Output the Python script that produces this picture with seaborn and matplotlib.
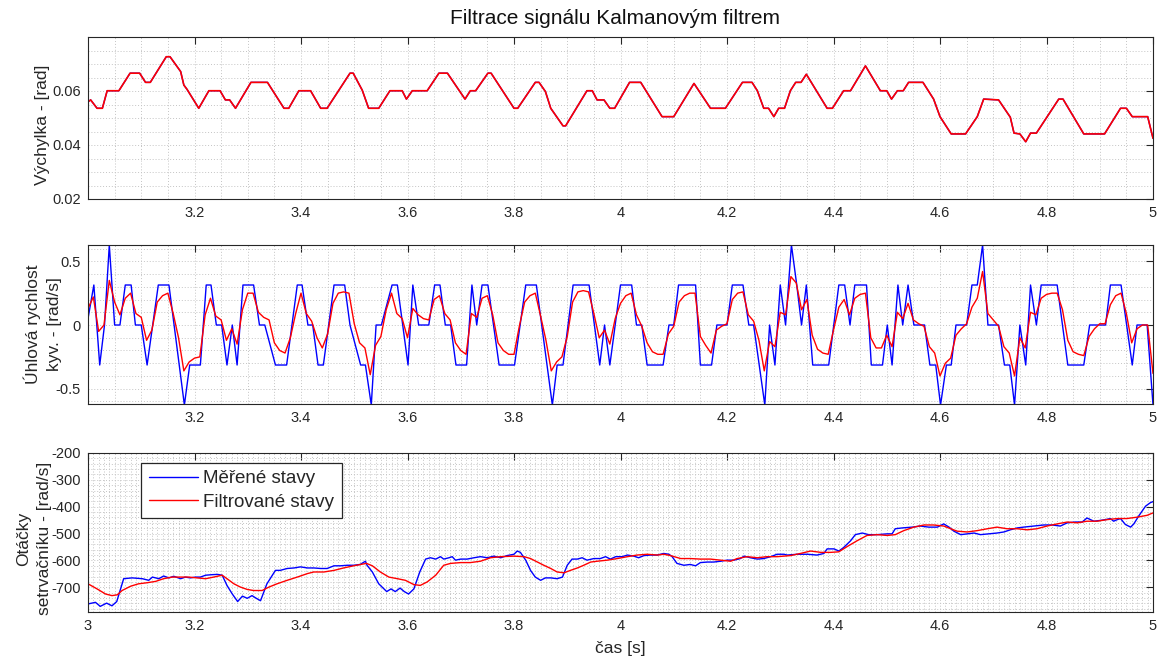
import matplotlib
matplotlib.use("Agg")
import matplotlib.pyplot as plt
from matplotlib.ticker import MultipleLocator, FixedLocator, FixedFormatter
import seaborn as sns

# --- hodnoty ---
# výchylka (měřená i filtrovaná se téměř kryjí)
angle_t = [3.000, 3.005, 3.017, 3.027, 3.036, 3.058, 3.079, 3.097, 3.108, 3.117, 3.147, 3.154,
           3.174, 3.180, 3.186, 3.208, 3.227, 3.248, 3.258, 3.266, 3.277, 3.306, 3.337, 3.368,
           3.377, 3.396, 3.418, 3.437, 3.449, 3.492, 3.498, 3.515, 3.527, 3.546, 3.567, 3.590,
           3.598, 3.609, 3.637, 3.659, 3.675, 3.708, 3.718, 3.728, 3.751, 3.757, 3.800, 3.807,
           3.840, 3.847, 3.859, 3.869, 3.892, 3.897, 3.937, 3.947, 3.956, 3.969, 3.980, 3.989,
           4.017, 4.038, 4.078, 4.100, 4.138, 4.169, 4.197, 4.229, 4.247, 4.257, 4.269, 4.278,
           4.288, 4.297, 4.308, 4.319, 4.329, 4.339, 4.349, 4.388, 4.398, 4.419, 4.432, 4.460,
           4.488, 4.500, 4.509, 4.520, 4.531, 4.541, 4.568, 4.588, 4.600, 4.621, 4.648, 4.670,
           4.682, 4.710, 4.732, 4.739, 4.750, 4.761, 4.770, 4.781, 4.823, 4.831, 4.870, 4.909,
           4.939, 4.950, 4.961, 4.990, 5.000]
angle_v = [0.0560, 0.0567, 0.0536, 0.0536, 0.0601, 0.0601, 0.0666, 0.0666, 0.0632, 0.0632, 0.0727, 0.0727,
           0.0672, 0.0622, 0.0606, 0.0536, 0.0601, 0.0601, 0.0567, 0.0567, 0.0536, 0.0632, 0.0632, 0.0536,
           0.0536, 0.0601, 0.0601, 0.0536, 0.0536, 0.0666, 0.0666, 0.0603, 0.0536, 0.0536, 0.0601, 0.0601,
           0.0570, 0.0601, 0.0601, 0.0666, 0.0666, 0.0570, 0.0601, 0.0601, 0.0666, 0.0666, 0.0536, 0.0536,
           0.0632, 0.0632, 0.0598, 0.0536, 0.0471, 0.0471, 0.0601, 0.0601, 0.0567, 0.0567, 0.0536, 0.0536,
           0.0632, 0.0632, 0.0505, 0.0505, 0.0628, 0.0536, 0.0536, 0.0632, 0.0632, 0.0601, 0.0536, 0.0536,
           0.0505, 0.0536, 0.0536, 0.0601, 0.0632, 0.0632, 0.0662, 0.0536, 0.0536, 0.0601, 0.0601, 0.0693,
           0.0601, 0.0601, 0.0570, 0.0601, 0.0601, 0.0632, 0.0632, 0.0570, 0.0505, 0.0441, 0.0441, 0.0505,
           0.0570, 0.0567, 0.0503, 0.0444, 0.0441, 0.0412, 0.0444, 0.0444, 0.0570, 0.0570, 0.0441, 0.0441,
           0.0536, 0.0536, 0.0505, 0.0505, 0.0425]

# úhlová rychlost - měřená
speed_meas_t = [3.000, 3.011, 3.022, 3.031, 3.040, 3.050, 3.060, 3.070, 3.081, 3.089, 3.100, 3.111,
                3.132, 3.152, 3.181, 3.191, 3.211, 3.222, 3.231, 3.241, 3.251, 3.261, 3.271, 3.280,
                3.291, 3.311, 3.322, 3.332, 3.352, 3.373, 3.393, 3.402, 3.413, 3.422, 3.432, 3.442,
                3.462, 3.482, 3.492, 3.512, 3.521, 3.532, 3.541, 3.551, 3.571, 3.581, 3.591, 3.601,
                3.610, 3.621, 3.640, 3.651, 3.661, 3.671, 3.681, 3.691, 3.711, 3.721, 3.730, 3.740,
                3.751, 3.772, 3.801, 3.822, 3.842, 3.872, 3.881, 3.892, 3.911, 3.941, 3.961, 3.970,
                3.980, 4.000, 4.021, 4.030, 4.040, 4.050, 4.080, 4.091, 4.100, 4.109, 4.141, 4.150,
                4.171, 4.181, 4.200, 4.210, 4.230, 4.241, 4.250, 4.271, 4.280, 4.290, 4.300, 4.310,
                4.321, 4.331, 4.340, 4.349, 4.361, 4.391, 4.410, 4.421, 4.431, 4.440, 4.462, 4.471,
                4.492, 4.501, 4.510, 4.521, 4.530, 4.540, 4.551, 4.571, 4.581, 4.592, 4.601, 4.612,
                4.621, 4.630, 4.650, 4.660, 4.670, 4.680, 4.690, 4.710, 4.721, 4.731, 4.740, 4.750,
                4.761, 4.770, 4.781, 4.790, 4.820, 4.840, 4.870, 4.881, 4.911, 4.920, 4.940, 4.961,
                4.970, 4.989, 5.000]
speed_meas_v = [0.05, 0.314, -0.314, 0.0, 0.628, 0.0, 0.0, 0.314, 0.314, 0.0, 0.0, -0.314,
                0.314, 0.314, -0.628, -0.314, -0.314, 0.314, 0.314, 0.0, 0.0, -0.314, 0.0, -0.314,
                0.314, 0.314, 0.0, 0.0, -0.314, -0.314, 0.314, 0.314, 0.0, 0.0, -0.314, -0.314,
                0.314, 0.314, 0.0, -0.314, -0.314, -0.628, 0.0, 0.0, 0.314, 0.314, 0.0, -0.314,
                0.314, 0.0, 0.0, 0.314, 0.314, 0.0, 0.0, -0.314, -0.314, 0.314, 0.0, 0.314,
                0.314, -0.314, -0.314, 0.314, 0.314, -0.628, -0.314, -0.314, 0.314, 0.314, -0.314, 0.0,
                -0.314, 0.314, 0.314, 0.0, 0.0, -0.314, -0.314, 0.0, 0.0, 0.314, 0.314, -0.314,
                -0.314, 0.0, 0.0, 0.314, 0.314, 0.0, 0.0, -0.628, 0.0, -0.314, 0.314, 0.0,
                0.628, 0.314, 0.0, 0.314, -0.314, -0.314, 0.314, 0.314, 0.0, 0.314, 0.314, -0.314,
                -0.314, 0.0, -0.314, 0.314, 0.0, 0.314, 0.0, 0.0, -0.314, -0.314, -0.628, -0.314,
                -0.314, 0.0, 0.0, 0.314, 0.314, 0.628, 0.0, 0.0, -0.314, -0.314, -0.628, 0.0,
                -0.314, 0.314, 0.0, 0.314, 0.314, -0.314, -0.314, 0.0, 0.0, 0.314, 0.314, -0.314,
                0.0, 0.0, -0.628]

# úhlová rychlost - filtrovaná (vzorky po 0.01 s od 3.00 do 5.00)
speed_filt_v = [0.13, 0.22, -0.05, 0.00, 0.35, 0.18, 0.08, 0.21, 0.25, 0.09,
                0.06, -0.12, -0.04, 0.18, 0.23, 0.25, 0.09, -0.10, -0.36, -0.29,
                -0.26, -0.25, 0.08, 0.21, 0.07, 0.04, -0.12, -0.03, -0.15, 0.12,
                0.25, 0.25, 0.10, 0.06, 0.04, -0.14, -0.20, -0.22, -0.10, 0.09,
                0.25, 0.09, 0.03, -0.10, -0.18, -0.07, 0.17, 0.25, 0.26, 0.25,
                0.01, -0.14, -0.18, -0.39, -0.16, -0.09, 0.12, 0.25, 0.09, 0.05,
                -0.10, 0.13, 0.08, 0.05, 0.04, 0.20, 0.23, 0.09, 0.04, -0.14,
                -0.20, -0.23, 0.09, 0.06, 0.21, 0.23, 0.08, -0.14, -0.20, -0.23,
                -0.23, -0.01, 0.18, 0.23, 0.25, 0.07, -0.12, -0.36, -0.29, -0.25,
                -0.09, 0.18, 0.26, 0.27, 0.26, 0.09, -0.10, -0.04, -0.15, 0.05,
                0.17, 0.23, 0.25, 0.08, -0.01, -0.14, -0.21, -0.23, -0.23, -0.07,
                -0.01, 0.18, 0.23, 0.25, 0.25, -0.09, -0.16, -0.22, -0.04, -0.01,
                0.01, 0.20, 0.25, 0.26, 0.08, 0.03, -0.12, -0.36, -0.13, -0.17,
                0.10, 0.08, 0.38, 0.33, 0.12, 0.20, -0.08, -0.19, -0.22, -0.23,
                -0.04, 0.14, 0.20, 0.08, 0.21, 0.24, 0.25, -0.10, -0.18, -0.18,
                -0.08, -0.17, 0.10, 0.05, 0.17, 0.04, 0.01, -0.01, -0.17, -0.22,
                -0.40, -0.30, -0.26, -0.08, -0.03, 0.01, 0.14, 0.21, 0.42, 0.09,
                0.04, -0.01, -0.17, -0.22, -0.40, -0.10, -0.18, 0.10, 0.08, 0.21,
                0.24, 0.25, 0.25, 0.12, -0.12, -0.21, -0.23, -0.24, -0.09, -0.03,
                0.01, 0.01, 0.16, 0.23, 0.25, 0.09, -0.14, -0.03, 0.00, 0.00,
                -0.38]
speed_filt_t = [round(3.0 + i / 100, 2) for i in range(len(speed_filt_v))]

# otáčky setrvačníku - měřené
wheel_meas_t = [3.000, 3.014, 3.023, 3.035, 3.045, 3.054, 3.067, 3.083, 3.102, 3.114, 3.121, 3.133,
                3.142, 3.152, 3.161, 3.174, 3.183, 3.192, 3.202, 3.211, 3.221, 3.233, 3.243, 3.252,
                3.261, 3.271, 3.281, 3.290, 3.299, 3.308, 3.316, 3.324, 3.336, 3.352, 3.361, 3.374,
                3.387, 3.399, 3.412, 3.424, 3.437, 3.449, 3.462, 3.474, 3.487, 3.499, 3.511, 3.521,
                3.524, 3.534, 3.546, 3.561, 3.569, 3.577, 3.586, 3.594, 3.602, 3.612, 3.623, 3.634,
                3.643, 3.653, 3.662, 3.668, 3.678, 3.684, 3.690, 3.700, 3.712, 3.725, 3.737, 3.750,
                3.762, 3.775, 3.787, 3.800, 3.806, 3.812, 3.822, 3.831, 3.840, 3.850, 3.859, 3.869,
                3.881, 3.891, 3.900, 3.909, 3.919, 3.928, 3.937, 3.950, 3.962, 3.972, 3.981, 3.991,
                4.003, 4.013, 4.025, 4.034, 4.044, 4.056, 4.069, 4.081, 4.091, 4.097, 4.106, 4.119,
                4.131, 4.141, 4.150, 4.163, 4.175, 4.188, 4.200, 4.213, 4.225, 4.232, 4.244, 4.257,
                4.269, 4.282, 4.294, 4.307, 4.313, 4.332, 4.351, 4.369, 4.382, 4.388, 4.401, 4.410,
                4.419, 4.432, 4.441, 4.454, 4.466, 4.482, 4.501, 4.510, 4.516, 4.529, 4.548, 4.563,
                4.579, 4.595, 4.607, 4.617, 4.626, 4.639, 4.651, 4.664, 4.676, 4.692, 4.707, 4.720,
                4.732, 4.745, 4.757, 4.776, 4.795, 4.811, 4.826, 4.839, 4.854, 4.867, 4.876, 4.889,
                4.901, 4.911, 4.920, 4.926, 4.933, 4.939, 4.948, 4.958, 4.964, 4.973, 4.986, 4.995,
                5.000]
wheel_meas_v = [-762, -756, -771, -759, -769, -753, -668, -665, -668, -674, -662, -668,
                -658, -665, -659, -668, -662, -665, -662, -662, -655, -653, -652, -655,
                -693, -725, -753, -733, -741, -731, -741, -750, -687, -637, -637, -630,
                -628, -624, -628, -628, -630, -630, -620, -620, -618, -618, -615, -603,
                -618, -643, -687, -716, -706, -716, -703, -716, -725, -706, -643, -595,
                -590, -595, -586, -595, -590, -586, -599, -595, -595, -590, -586, -590,
                -584, -590, -582, -577, -565, -570, -599, -637, -662, -674, -665, -665,
                -668, -662, -618, -595, -595, -590, -599, -593, -593, -586, -595, -586,
                -586, -580, -584, -590, -582, -580, -580, -574, -577, -586, -611, -618,
                -615, -620, -608, -606, -606, -603, -599, -599, -593, -584, -590, -595,
                -593, -586, -577, -577, -580, -577, -577, -580, -574, -557, -557, -565,
                -552, -527, -504, -498, -504, -504, -501, -501, -482, -479, -476, -472,
                -476, -476, -464, -476, -491, -504, -501, -498, -504, -501, -498, -494,
                -486, -479, -476, -472, -468, -468, -472, -460, -457, -457, -442, -454,
                -451, -448, -444, -454, -448, -444, -466, -476, -464, -435, -398, -385,
                -381]

# otáčky setrvačníku - filtrované
wheel_filt_t = [3.000, 3.017, 3.033, 3.045, 3.055, 3.064, 3.080, 3.095, 3.111, 3.127, 3.142, 3.158,
                3.174, 3.189, 3.205, 3.221, 3.236, 3.252, 3.261, 3.274, 3.286, 3.299, 3.311, 3.327,
                3.340, 3.355, 3.374, 3.393, 3.412, 3.424, 3.443, 3.462, 3.480, 3.499, 3.512, 3.523,
                3.534, 3.549, 3.565, 3.581, 3.596, 3.612, 3.624, 3.637, 3.653, 3.668, 3.681, 3.700,
                3.718, 3.737, 3.756, 3.775, 3.800, 3.819, 3.831, 3.844, 3.856, 3.869, 3.881, 3.894,
                3.906, 3.919, 3.931, 3.944, 3.956, 3.975, 3.994, 4.013, 4.031, 4.050, 4.069, 4.081,
                4.094, 4.113, 4.131, 4.150, 4.169, 4.188, 4.207, 4.219, 4.238, 4.257, 4.275, 4.294,
                4.319, 4.338, 4.357, 4.376, 4.394, 4.410, 4.426, 4.444, 4.463, 4.482, 4.501, 4.516,
                4.532, 4.551, 4.570, 4.588, 4.607, 4.620, 4.632, 4.651, 4.670, 4.689, 4.707, 4.726,
                4.745, 4.764, 4.782, 4.801, 4.820, 4.839, 4.858, 4.876, 4.895, 4.914, 4.933, 4.951,
                4.970, 4.989, 5.000]
wheel_filt_v = [-687, -706, -725, -731, -728, -712, -696, -687, -683, -678, -668, -662,
                -662, -662, -665, -668, -662, -655, -668, -687, -699, -708, -712, -712,
                -699, -687, -674, -662, -649, -643, -643, -637, -628, -620, -615, -611,
                -620, -643, -662, -668, -674, -690, -693, -680, -655, -618, -611, -608,
                -608, -603, -590, -586, -584, -586, -593, -606, -618, -630, -643, -646,
                -637, -628, -618, -606, -603, -599, -593, -586, -580, -577, -580, -577,
                -582, -593, -593, -595, -595, -599, -603, -593, -586, -590, -586, -586,
                -582, -574, -565, -570, -570, -568, -548, -527, -507, -504, -507, -504,
                -489, -476, -468, -468, -472, -482, -491, -494, -489, -482, -476, -482,
                -482, -486, -482, -472, -464, -457, -460, -454, -454, -448, -444, -444,
                -439, -432, -423]

x_ticks_top = [3.2, 3.4, 3.6, 3.8, 4.0, 4.2, 4.4, 4.6, 4.8, 5.0]
x_labels_top = ["3.2", "3.4", "3.6", "3.8", "4", "4.2", "4.4", "4.6", "4.8", "5"]
x_ticks_bot = [3.0] + x_ticks_top
x_labels_bot = ["3"] + x_labels_top

BLUE = "#0000ff"
RED = "#ff0000"
INK = "#262626"

sns.set_theme(style="white")
plt.rcParams['font.family'] = ['Liberation Sans', 'DejaVu Sans']

fig = plt.figure(figsize=(11.57, 6.60), dpi=100)
W, H = 1157, 660
def box(l, t, r, b):
    return [l / W, 1 - b / H, (r - l) / W, (b - t) / H]

ax1 = fig.add_axes(box(88, 37, 1153, 199))
ax2 = fig.add_axes(box(88, 245, 1153, 404))
ax3 = fig.add_axes(box(88, 453, 1153, 612))

grid_kw = dict(color="#c4c4c4", linestyle=(0, (1, 2)), linewidth=0.7)

def style(ax, xminor, yminor):
    ax.xaxis.set_minor_locator(MultipleLocator(xminor))
    ax.yaxis.set_minor_locator(MultipleLocator(yminor))
    ax.grid(True, which="both", **grid_kw)
    ax.set_axisbelow(True)
    ax.tick_params(which="major", direction="in", top=True, right=True, length=5,
                   width=0.8, color=INK, labelcolor=INK, labelsize=10.5, pad=5)
    ax.tick_params(which="minor", length=0)
    for s in ax.spines.values():
        s.set_color(INK)
        s.set_linewidth(0.8)
    ax.set_xlim(3.0, 5.0)

# 1) výchylka
sns.lineplot(x=angle_t, y=angle_v, ax=ax1, color=BLUE, lw=1.0, estimator=None, sort=False)
sns.lineplot(x=angle_t, y=angle_v, ax=ax1, color=RED, lw=1.2, estimator=None, sort=False)
style(ax1, 0.05, 0.005)
ax1.set_ylim(0.02, 0.08)
ax1.yaxis.set_major_locator(FixedLocator([0.02, 0.04, 0.06]))
ax1.yaxis.set_major_formatter(FixedFormatter(["0.02", "0.04", "0.06"]))

# 2) úhlová rychlost
sns.lineplot(x=speed_meas_t, y=speed_meas_v, ax=ax2, color=BLUE, lw=1.0, estimator=None, sort=False)
sns.lineplot(x=speed_filt_t, y=speed_filt_v, ax=ax2, color=RED, lw=1.0, estimator=None, sort=False)
style(ax2, 0.05, 0.1)
ax2.set_ylim(-0.62, 0.628)
ax2.yaxis.set_major_locator(FixedLocator([-0.5, 0.0, 0.5]))
ax2.yaxis.set_major_formatter(FixedFormatter(["-0.5", "0", "0.5"]))

# 3) otáčky setrvačníku
sns.lineplot(x=wheel_meas_t, y=wheel_meas_v, ax=ax3, color=BLUE, lw=1.0, estimator=None,
             sort=False, label="Měřené stavy")
sns.lineplot(x=wheel_filt_t, y=wheel_filt_v, ax=ax3, color=RED, lw=1.0, estimator=None,
             sort=False, label="Filtrované stavy")
style(ax3, 0.01, 20)
ax3.set_ylim(-792, -200)
y3 = [-700, -600, -500, -400, -300, -200]
ax3.yaxis.set_major_locator(FixedLocator(y3))
ax3.yaxis.set_major_formatter(FixedFormatter([f"-{abs(v)}" for v in y3]))

for ax in (ax1, ax2):
    ax.xaxis.set_major_locator(FixedLocator(x_ticks_top))
    ax.xaxis.set_major_formatter(FixedFormatter(x_labels_top))
ax3.xaxis.set_major_locator(FixedLocator(x_ticks_bot))
ax3.xaxis.set_major_formatter(FixedFormatter(x_labels_bot))

leg = ax3.legend(loc="upper left", bbox_to_anchor=(0.05, 0.94), borderaxespad=0,
                 fontsize=13.5, frameon=True, fancybox=False, framealpha=1,
                 edgecolor="#262626", handlelength=2.6, handletextpad=0.3,
                 labelspacing=0.35, borderpad=0.4)
leg.get_frame().set_linewidth(0.9)

ylab_kw = dict(fontsize=12.5, color=INK, va="center", linespacing=1.45)
ax1.set_ylabel("Výchylka - [rad]", **ylab_kw)
ax2.set_ylabel("Úhlová rychlost\nkyv. - [rad/s]", **ylab_kw)
ax3.set_ylabel("Otáčky\nsetrvačníku - [rad/s]", **ylab_kw)
ax1.yaxis.set_label_coords(-0.0425, 0.46)
ax2.yaxis.set_label_coords(-0.0425, 0.5)
ax3.yaxis.set_label_coords(-0.0505, 0.46)
ax1.set_xlabel("")
ax2.set_xlabel("")
ax3.set_xlabel("")

fig.text(615 / W, 1 - 18 / H, "Filtrace signálu Kalmanovým filtrem", ha="center", va="center",
         fontsize=15, color="#111111")
fig.text(620 / W, 1 - 648 / H, "čas [s]", ha="center", va="center", fontsize=12.5, color=INK)

fig.savefig("out.png", dpi=100)
